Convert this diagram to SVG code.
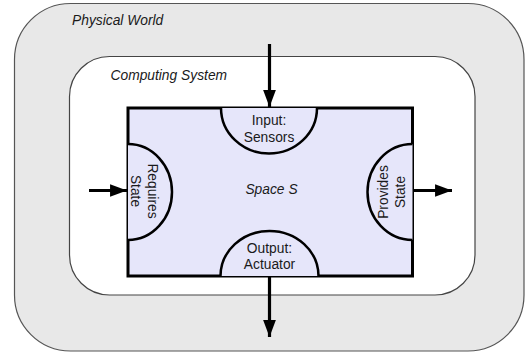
<svg xmlns="http://www.w3.org/2000/svg" width="528" height="356" viewBox="0 0 528 356">
  <defs>
    <marker id="arrow" viewBox="0 0 8 6" refX="8" refY="3" markerWidth="5.3" markerHeight="4" orient="auto" markerUnits="strokeWidth">
      <path d="M0,0 L8,3 L0,6 Z" fill="#000"/>
    </marker>
    <style>
      .lbl { font-family: "Liberation Sans", Arial, sans-serif; font-size: 13.8px; fill: #1a1a1a; }
      .it { font-style: italic; }
      .port { fill: #e6e6fa; stroke: #000; stroke-width: 2.5; }
      .flow { stroke: #000; stroke-width: 3.2; fill: none; marker-end: url(#arrow); }
    </style>
  </defs>

  <g id="physical-world">
    <rect x="14.5" y="3.5" width="509.5" height="347.5" rx="56" ry="56" fill="#e8e8e8" stroke="#555" stroke-width="1.2"/>
    <text class="lbl it" x="72" y="25">Physical World</text>
  </g>

  <g id="computing-system">
    <rect x="69.5" y="56.5" width="405.5" height="238.5" rx="40" ry="40" fill="#fff" stroke="#444" stroke-width="1.2"/>
    <text class="lbl it" x="110.5" y="80">Computing System</text>
  </g>

  <g id="space-s">
    <rect x="128" y="108" width="284.5" height="168" fill="#e6e6fa" stroke="#000" stroke-width="3"/>
    <text class="lbl it" x="271.5" y="194" text-anchor="middle">Space S</text>
  </g>

  <g id="input-sensors">
    <path class="port" d="M221,108 A48,45.5 0 0 0 317,108"/>
    <text class="lbl" x="269" y="125" text-anchor="middle">Input:</text>
    <text class="lbl" x="269" y="142" text-anchor="middle">Sensors</text>
  </g>

  <g id="output-actuator">
    <path class="port" d="M220.5,276 A49,45 0 0 1 318.5,276"/>
    <text class="lbl" x="269.5" y="253" text-anchor="middle">Output:</text>
    <text class="lbl" x="269.5" y="269" text-anchor="middle">Actuator</text>
  </g>

  <g id="requires-state">
    <path class="port" d="M128,144 A44,48 0 0 1 128,240"/>
    <text class="lbl" transform="translate(148,191) rotate(90)" text-anchor="middle">Requires</text>
    <text class="lbl" transform="translate(131,191) rotate(90)" text-anchor="middle">State</text>
  </g>

  <g id="provides-state">
    <path class="port" d="M412.5,144 A45,48 0 0 0 412.5,240"/>
    <text class="lbl" transform="translate(388,192) rotate(-90)" text-anchor="middle">Provides</text>
    <text class="lbl" transform="translate(405,192) rotate(-90)" text-anchor="middle">State</text>
  </g>

  <g id="connectors">
    <line class="flow" x1="269.5" y1="44" x2="269.5" y2="107"/>
    <line class="flow" x1="89" y1="190.5" x2="127" y2="190.5"/>
    <line class="flow" x1="414" y1="190.5" x2="452" y2="190.5"/>
    <line class="flow" x1="269.5" y1="277" x2="269.5" y2="337"/>
  </g>
</svg>
